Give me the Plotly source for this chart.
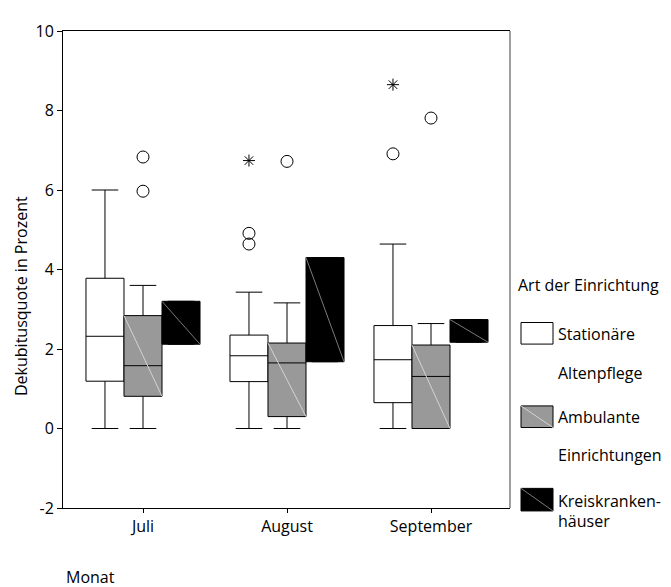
import plotly.graph_objects as go

# ---------------- data ----------------
months = ["Juli", "August", "September"]
series_names = ["Stationäre Altenpflege", "Ambulante Einrichtungen", "Kreiskrankenhäuser"]

stat_q1 = [1.19, 1.18, 0.65]
stat_median = [2.32, 1.83, 1.73]
stat_q3 = [3.78, 2.35, 2.59]
stat_lower = [0.0, 0.0, 0.0]
stat_upper = [6.0, 3.43, 4.64]

amb_q1 = [0.81, 0.30, 0.0]
amb_median = [1.58, 1.65, 1.31]
amb_q3 = [2.84, 2.15, 2.10]
amb_lower = [0.0, 0.0, 0.0]
amb_upper = [3.60, 3.16, 2.64]

kh_q1 = [2.12, 1.68, 2.17]
kh_median = [2.12, 1.68, 2.17]
kh_q3 = [3.20, 4.30, 2.74]

# outliers (circles) and extreme values (stars)
stat_out_month = ["August", "August", "September"]
stat_out_val = [4.91, 4.64, 6.91]
stat_ext_month = ["August", "September"]
stat_ext_val = [6.74, 8.65]
amb_out_month = ["Juli", "Juli", "August", "September"]
amb_out_val = [6.83, 5.97, 6.72, 7.81]

y_ticks = [-2, 0, 2, 4, 6, 8, 10]

# ---------------- layout helpers ----------------
W, H = 671, 587
OFS = 8                      # page body margin
L, R, T, B = 63, 510, 22, 508  # plot area in window pixels
BW = 0.264          # box width in category units
OFF = [-BW, 0.0, BW]
FONT = "Open Sans"
FS = 16

def px_x(px):
    return (px - L) / (R - L)

def px_y(py):
    return (B - py) / (B - T)

idx = {m: i for i, m in enumerate(months)}

fig = go.Figure()

styles = [
    dict(fill="white", line="black"),
    dict(fill="#999999", line="black"),
    dict(fill="black", line="black"),
]

box_sets = [
    (stat_q1, stat_median, stat_q3, stat_lower, stat_upper),
    (amb_q1, amb_median, amb_q3, amb_lower, amb_upper),
    (kh_q1, kh_median, kh_q3, kh_q1, kh_q3),
]

for s, (q1, med, q3, lo, hi) in enumerate(box_sets):
    xs = [i + OFF[s] for i in range(len(months))]
    fig.add_trace(go.Box(
        x=xs, q1=q1, median=med, q3=q3, lowerfence=lo, upperfence=hi,
        width=BW, whiskerwidth=0.7, boxpoints=False,
        fillcolor=styles[s]["fill"],
        line=dict(color=styles[s]["line"], width=1),
        name=series_names[s], showlegend=False, hoverinfo="skip",
    ))

# outlier markers
fig.add_trace(go.Scatter(
    x=[idx[m] + OFF[0] for m in stat_out_month], y=stat_out_val, mode="markers",
    marker=dict(symbol="circle-open", size=12, color="black", line=dict(width=1)),
    showlegend=False))
fig.add_trace(go.Scatter(
    x=[idx[m] + OFF[0] for m in stat_ext_month], y=stat_ext_val, mode="markers",
    marker=dict(symbol="asterisk-open", size=10, color="black", line=dict(width=1)),
    showlegend=False))
fig.add_trace(go.Scatter(
    x=[idx[m] + OFF[1] for m in amb_out_month], y=amb_out_val, mode="markers",
    marker=dict(symbol="circle-open", size=12, color="black", line=dict(width=1)),
    showlegend=False))

shapes = []
# diagonal hatch lines in grey and black boxes
for s, diag_col in [(1, "#d4d4d4"), (2, "#7a7a7a")]:
    q1, med, q3 = box_sets[s][0], box_sets[s][1], box_sets[s][2]
    for i in range(len(months)):
        xc = i + OFF[s]
        shapes.append(dict(type="line", xref="x", yref="y",
                           x0=xc - BW / 2, y0=q3[i], x1=xc + BW / 2, y1=q1[i],
                           line=dict(color=diag_col, width=1), layer="above"))

# right border (grey)
shapes.append(dict(type="line", xref="paper", yref="paper", x0=1, x1=1, y0=0, y1=1,
                   line=dict(color="#7f7f7f", width=1.5)))

annotations = []
# y-axis title
annotations.append(dict(text="Dekubitusquote in Prozent", textangle=-90,
                        xref="paper", yref="paper", x=px_x(21), y=px_y(292),
                        xanchor="center", yanchor="middle", showarrow=False,
                        font=dict(family=FONT, size=FS, color="black")))
# x-axis title
annotations.append(dict(text="Monat", xref="paper", yref="paper",
                        x=px_x(64), y=px_y(578), xanchor="left", yanchor="middle",
                        showarrow=False, font=dict(family=FONT, size=FS, color="black")))

# manual legend
annotations.append(dict(text="Art der Einrichtung", xref="paper", yref="paper",
                        x=px_x(516), y=px_y(281), xanchor="left", yanchor="middle",
                        showarrow=False, font=dict(family=FONT, size=FS, color="black")))

legend_items = [
    (styles[0]["fill"], None, 319, 341, ["Stationäre", "Altenpflege"], [331, 370]),
    (styles[1]["fill"], "#d4d4d4", 404, 426, ["Ambulante", "Einrichtungen"], [415, 454]),
    (styles[2]["fill"], "#7a7a7a", 488, 511, ["Kreiskranken-", "häuser"], [501, 521]),
]
for fill, diag, y0, y1, labels, ly in legend_items:
    shapes.append(dict(type="rect", xref="paper", yref="paper",
                       x0=px_x(521), x1=px_x(553), y0=px_y(y1), y1=px_y(y0),
                       fillcolor=fill, line=dict(color="black", width=1)))
    if diag:
        shapes.append(dict(type="line", xref="paper", yref="paper",
                           x0=px_x(521), y0=px_y(y0), x1=px_x(553), y1=px_y(y1),
                           line=dict(color=diag, width=1)))
    for lab, yy in zip(labels, ly):
        annotations.append(dict(text=lab, xref="paper", yref="paper",
                                x=px_x(556), y=px_y(yy), xanchor="left", yanchor="middle",
                                showarrow=False,
                                font=dict(family=FONT, size=FS, color="black")))

fig.update_layout(
    width=W, height=H,
    margin=dict(l=L - OFS, r=W - (R - OFS), t=T - OFS, b=H - (B - OFS), pad=0),
    paper_bgcolor="white", plot_bgcolor="white",
    boxmode="overlay",
    font=dict(family=FONT, size=FS, color="black"),
    xaxis=dict(range=[(L - 143) / 144, (R - 143) / 144], tickmode="array",
               tickvals=list(range(len(months))), ticktext=months,
               showgrid=False, zeroline=False, showline=True, linecolor="black",
               linewidth=1, mirror=True, ticks="outside", ticklen=4,
               tickcolor="black", tickfont=dict(family=FONT, size=FS)),
    yaxis=dict(range=[-2, 10], tickmode="array", tickvals=y_ticks,
               ticktext=[str(v) for v in y_ticks],
               showgrid=False, zeroline=False, showline=True, linecolor="black",
               linewidth=1, ticks="outside", ticklen=5, tickcolor="black",
               tickfont=dict(family=FONT, size=FS)),
    shapes=shapes, annotations=annotations,
)

fig.write_html("out.html")
